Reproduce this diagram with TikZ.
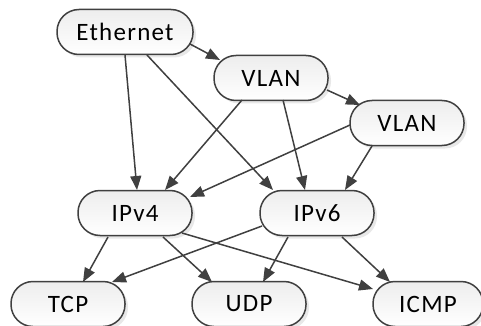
\documentclass[tikz,border=0pt]{standalone}
\usepackage{fontspec}
\setmainfont{Carlito}[LetterSpace=5]
\usepackage{tikz}
\usetikzlibrary{calc, arrows.meta, shadows}

\definecolor{linegray}{HTML}{404040}

\begin{document}
\begin{tikzpicture}[x=0.5pt, y=-0.5pt, >={Triangle[length=7pt,width=5.5pt]},
    proto/.style={draw=linegray, line width=0.75pt, rounded corners=11pt,
      top color=gray!14, bottom color=white, minimum height=22.5pt,
      minimum width=57pt, inner sep=0pt, font=\fontsize{12.5}{14}\selectfont,
      drop shadow={opacity=0.18, shadow xshift=1.5pt, shadow yshift=-1.5pt}},
    edge/.style={->, draw=linegray, fill=linegray, line width=0.75pt}]
  \useasboundingbox (0,0) rectangle (481,326);
  % Protocol nodes
  \node[proto, minimum width=68pt] (eth) at (125,32) {Ethernet};
  \node[proto] (vlan1) at (271,78) {VLAN};
  \node[proto] (vlan2) at (407,123) {VLAN};
  \node[proto] (ipv4) at (135,213) {IPv4};
  \node[proto] (ipv6) at (317,213) {IPv6};
  \node[proto] (tcp) at (68,304) {TCP};
  \node[proto] (udp) at (249,304) {UDP};
  \node[proto, minimum width=55pt] (icmp) at (428,304) {ICMP};
  % Links (start offset / end offset from centres)
  \foreach \a/\sa/\b/\eb in {
      eth/{65,12}/vlan1/{-51,-18}, eth/{0,23}/ipv4/{2,-23},
      eth/{22,23}/ipv6/{-44,-23}, vlan1/{56,12}/vlan2/{-47,-18},
      vlan1/{-29,22}/ipv4/{30,-23}, vlan1/{12,22}/ipv6/{-12,-23},
      vlan2/{-57,2}/ipv4/{55,-16}, vlan2/{-35,23}/ipv6/{28,-23},
      ipv4/{-27,24}/tcp/{15,-22}, ipv4/{28,24}/udp/{-37,-22},
      ipv4/{47,20}/icmp/{-55,-15}, ipv6/{-55,13}/tcp/{44,-22},
      ipv6/{-29,24}/udp/{14,-22}, ipv6/{25,24}/icmp/{-38,-22}}{
    \draw[edge] ($(\a.center)+(\sa)$) -- ($(\b.center)+(\eb)$);
  }
\end{tikzpicture}
\end{document}
